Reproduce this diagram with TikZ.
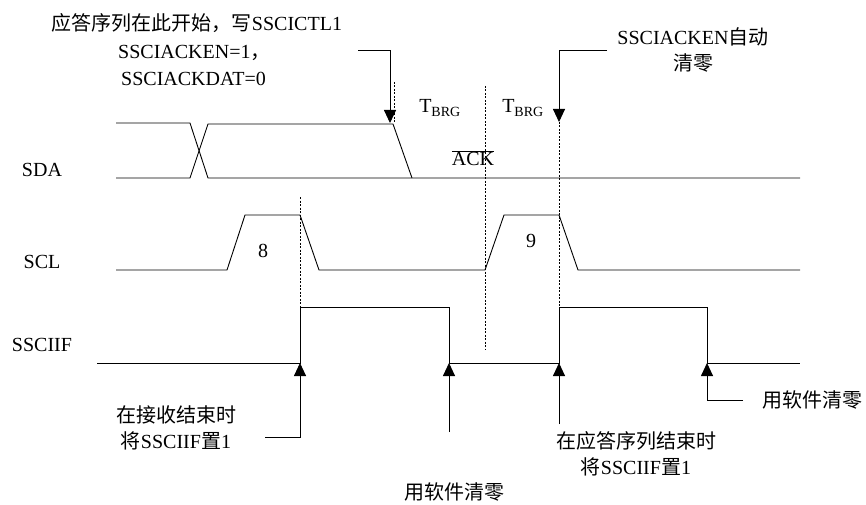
\documentclass[tikz,border=0pt]{standalone}
\usepackage{fontspec}
\setmainfont{Liberation Serif}
\newfontfamily\cjk{Noto Sans CJK SC}
\usetikzlibrary{arrows.meta}

\begin{document}
\begin{tikzpicture}[x=1pt,y=-1pt,>={Triangle[width=12pt,length=13pt]},
  sig/.style={line width=0.9pt,line join=miter},
  guide/.style={line width=0.7pt,dash pattern=on 2pt off 1.5pt},
  lbl/.style={inner sep=0pt,font=\fontsize{20pt}{26pt}\selectfont},
  callout/.style={line width=0.9pt,->}]
  \useasboundingbox (0,0) rectangle (866,505);
  % signal names
  \node[lbl] (sda) at (42,170) {SDA};
  \node[lbl] (scl) at (42,262) {SCL};
  \node[lbl] (iff) at (42,345) {SSCIIF};
  % SDA
  \draw[sig] (116,123) -- (190,123) -- (208,178) -- (800,178);
  \draw[sig] (116,178) -- (190,178) -- (208,124) -- (393,124) -- (412,178);
  % SCL
  \draw[sig] (116,270) -- (227,270) -- (245,215) -- (300,215) -- (319,270) -- (485,270)
    -- (504,215) -- (559,215) -- (578,270) -- (800,270);
  \node[lbl] (n8) at (263,251) {8};
  \node[lbl] (n9) at (531,241) {9};
  % SSCIIF
  \draw[sig] (97,363) -- (300,363) -- (300,307) -- (449,307) -- (449,363) -- (559,363)
    -- (559,307) -- (707,307) -- (707,363) -- (800,363);
  % guides
  \draw[guide] (394,82) -- (394,124);
  \draw[guide] (485,86) -- (485,350);
  \draw[guide] (559,122) -- (559,307);
  \draw[guide] (300,197) -- (300,307);
  \node[lbl] (tbrgA) at (440,108) {T\textsubscript{BRG}};
  \node[lbl] (tbrgB) at (523,108) {T\textsubscript{BRG}};
  \node[lbl] (ack) at (473,158) {$\overline{\mbox{ACK}}$};
  % top notes
  \node[lbl] (start) at (197,23) {{\cjk 应答序列在此开始，写}SSCICTL1};
  \node[lbl,anchor=west] (en) at (118,53) {SSCIACKEN=1{\cjk ，}};
  \node[lbl,anchor=west] (dat) at (121,79) {SSCIACKDAT=0};
  \node[lbl,align=center] (auto) at (693,50) {SSCIACKEN{\cjk 自动}\\{\cjk 清零}};
  \coordinate (enT) at (358,50);  \coordinate (sdaFall) at (390,123);
  \coordinate (autoT) at (607,50); \coordinate (sdaEnd) at (559,122);
  \draw[callout] (enT) -| (sdaFall);
  \draw[callout] (autoT) -| (sdaEnd);
  % bottom notes
  \node[lbl,align=center] (recv) at (176,428) {{\cjk 在接收结束时}\\{\cjk 将}SSCIIF{\cjk 置}1};
  \node[lbl] (clrA) at (454,492) {\cjk 用软件清零};
  \node[lbl,align=center] (ackend) at (636,454) {{\cjk 在应答序列结束时}\\{\cjk 将}SSCIIF{\cjk 置}1};
  \node[lbl] (clrB) at (812,400) {\cjk 用软件清零};
  \coordinate (recvT) at (265,437); \coordinate (iffA) at (300,363);
  \coordinate (clrAT) at (449,432); \coordinate (iffB) at (449,363);
  \coordinate (ackT) at (559,424);  \coordinate (iffC) at (559,363);
  \coordinate (clrBT) at (743,400); \coordinate (iffD) at (707,363);
  \draw[callout] (recvT) -| (iffA);
  \draw[callout] (clrAT) -- (iffB);
  \draw[callout] (ackT) -- (iffC);
  \draw[callout] (clrBT) -| (iffD);
\end{tikzpicture}
\end{document}
